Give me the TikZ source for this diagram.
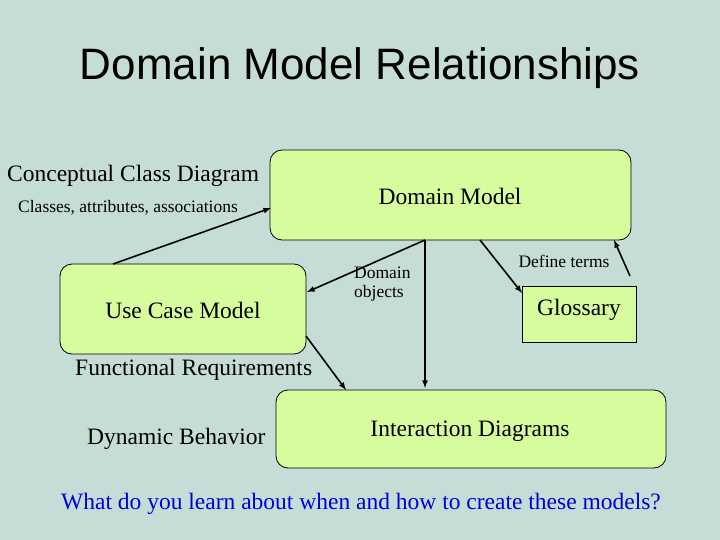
\documentclass[tikz,border=0pt]{standalone}
\usepackage{fontspec}
\setmainfont{Liberation Serif}
\newfontfamily\arial{Liberation Sans}
\begin{document}
\begin{tikzpicture}[x=1pt,y=-1pt,
  box/.style={draw=black,fill=boxfill,rounded corners=12pt,line width=0.8pt},
  sqbox/.style={draw=black,fill=boxfill,line width=0.8pt},
  arr/.style={-latex,line width=1.6pt},
  lbl/.style={inner sep=0pt,font=\fontsize{23.5}{27}\selectfont},
  slbl/.style={inner sep=0pt,font=\fontsize{17.5}{19}\selectfont,align=left}]
\definecolor{bg}{RGB}{197,221,214}
\definecolor{boxfill}{RGB}{214,252,158}
\fill[bg] (0,0) rectangle (720,540);
\useasboundingbox (0,0) rectangle (720,540);
\node[font=\arial\fontsize{44}{50}\selectfont] (title) at (360,68) {Domain Model Relationships};
\draw[box] (270,150) rectangle (631,240);
\node[lbl] (dmt) at (450,196) {Domain Model};
\draw[box] (60,264) rectangle (306,354);
\node[lbl] (uct) at (183,310) {Use Case Model};
\draw[sqbox] (522,286) rectangle (636,342);
\node[lbl] (gt) at (579,310) {Glossary};
\draw[box] (276,390) rectangle (666,468);
\node[lbl] (idt) at (470,431) {Interaction Diagrams};
\node[lbl,anchor=west] (ccd) at (7,176) {Conceptual Class Diagram};
\node[slbl,anchor=west] (cls) at (18,208) {Classes, attributes, associations};
\node[slbl,anchor=north west] (dob) at (354,267) {Domain\\objects};
\node[slbl] (def) at (564,261) {Define terms};
\node[lbl,anchor=west] (fr) at (75,370) {Functional Requirements};
\node[lbl,anchor=west] (db) at (87,439) {Dynamic Behavior};
\node[lbl,text=blue!85!black] (q) at (361,504) {What do you learn about when and how to create these models?};
\coordinate (a1) at (113,264); \coordinate (a2) at (271,208);
\coordinate (b1) at (425,240); \coordinate (b2) at (307,292);
\coordinate (c2) at (425,388);
\coordinate (d1) at (480,240); \coordinate (d2) at (522,293);
\coordinate (e1) at (630,276); \coordinate (e2) at (614,240);
\coordinate (f1) at (306,336); \coordinate (f2) at (346,390);
\draw[arr] (a1) -- (a2);
\draw[arr] (b1) -- (b2);
\draw[arr] (b1) -- (c2);
\draw[arr] (d1) -- (d2);
\draw[arr] (e1) -- (e2);
\draw[arr] (f1) -- (f2);
\end{tikzpicture}
\end{document}
